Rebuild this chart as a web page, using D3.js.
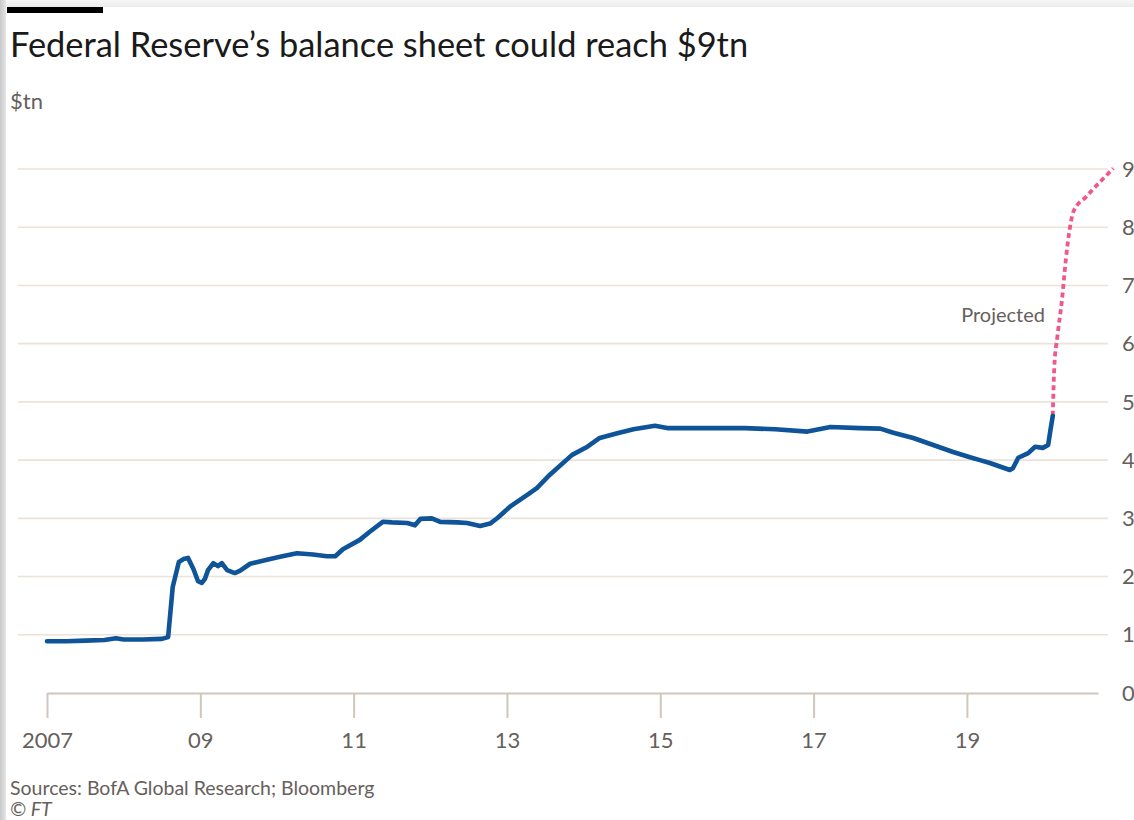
<!DOCTYPE html>
<html>
<head>
<meta charset="utf-8">
<script src="https://cdn.jsdelivr.net/npm/d3@7"></script>
<style>
  html, body { margin: 0; padding: 0; background: #fff; }
  svg { display: block; }
  text { font-family: Lato, "Open Sans", sans-serif; }
</style>
</head>
<body>
<svg id="chart" width="1134" height="820"></svg>
<script>
// Fed balance sheet, $tn (decimal year, value)
const actualYears = [2007.00, 2007.25, 2007.50, 2007.75, 2007.90, 2008.00, 2008.25, 2008.50, 2008.58, 2008.64,
  2008.72, 2008.78, 2008.84, 2008.91, 2008.97, 2009.02, 2009.06, 2009.10, 2009.17, 2009.23,
  2009.28, 2009.35, 2009.45, 2009.52, 2009.65, 2009.87, 2010.04, 2010.26, 2010.47, 2010.65,
  2010.76, 2010.86, 2011.08, 2011.21, 2011.38, 2011.50, 2011.70, 2011.80, 2011.87, 2012.02,
  2012.13, 2012.35, 2012.48, 2012.65, 2012.78, 2012.88, 2013.04, 2013.26, 2013.39, 2013.56,
  2013.85, 2014.05, 2014.21, 2014.44, 2014.65, 2014.93, 2015.09, 2015.30, 2015.52, 2015.80,
  2016.10, 2016.50, 2016.92, 2017.22, 2017.60, 2017.87, 2018.04, 2018.30, 2018.56, 2018.82,
  2019.04, 2019.17, 2019.30, 2019.56, 2019.60, 2019.67, 2019.80, 2019.89, 2019.99, 2020.06,
  2020.09, 2020.12];
const actualValues = [0.89, 0.89, 0.90, 0.91, 0.94, 0.92, 0.92, 0.93, 0.96, 1.82,
  2.25, 2.30, 2.32, 2.13, 1.92, 1.89, 1.96, 2.11, 2.23, 2.18,
  2.23, 2.11, 2.06, 2.10, 2.22, 2.29, 2.34, 2.40, 2.38, 2.35,
  2.35, 2.47, 2.63, 2.77, 2.94, 2.93, 2.92, 2.88, 2.99, 3.00,
  2.94, 2.93, 2.92, 2.87, 2.91, 3.01, 3.20, 3.40, 3.52, 3.75,
  4.09, 4.23, 4.38, 4.46, 4.53, 4.59, 4.55, 4.55, 4.55, 4.55,
  4.55, 4.53, 4.49, 4.57, 4.55, 4.54, 4.47, 4.38, 4.26, 4.14,
  4.05, 4.00, 3.95, 3.83, 3.86, 4.04, 4.12, 4.23, 4.21, 4.26,
  4.52, 4.76];

// BofA projection
const projectedYears = [2020.12, 2020.14, 2020.18, 2020.24, 2020.29, 2020.34, 2020.39, 2020.56, 2020.91];
const projectedValues = [4.76, 5.60, 6.12, 6.75, 7.44, 7.96, 8.27, 8.53, 9.01];

const xTickYears = [2007, 2009, 2011, 2013, 2015, 2017, 2019];
const xTickLabels = ["2007", "09", "11", "13", "15", "17", "19"];
const yTicks = [0, 1, 2, 3, 4, 5, 6, 7, 8, 9];

const titleText = "Federal Reserve\u2019s balance sheet could reach $9tn";
const unitText = "$tn";
const sourceText = "Sources: BofA Global Research; Bloomberg";
const creditText = "\u00a9 FT";
const projectedLabel = "Projected";

const svg = d3.select("#chart");

// frame shading along the top and left edges
const defs = svg.append("defs");
const gl = defs.append("linearGradient").attr("id", "edgeL").attr("x1", 0).attr("x2", 1).attr("y1", 0).attr("y2", 0);
gl.append("stop").attr("offset", 0).attr("stop-color", "#c8c8c8");
gl.append("stop").attr("offset", 1).attr("stop-color", "#e6e6e6");
const gt = defs.append("linearGradient").attr("id", "edgeT").attr("x1", 0).attr("x2", 0).attr("y1", 0).attr("y2", 1);
gt.append("stop").attr("offset", 0).attr("stop-color", "#f6f6f6");
gt.append("stop").attr("offset", 1).attr("stop-color", "#ececec");
svg.append("rect").attr("x", 0).attr("y", 0).attr("width", 1134).attr("height", 7).attr("fill", "url(#edgeT)");
svg.append("rect").attr("x", 0).attr("y", 0).attr("width", 6).attr("height", 820).attr("fill", "url(#edgeL)");

// header bar
svg.append("rect").attr("x", 7).attr("y", 7).attr("width", 96).attr("height", 6).attr("fill", "#000");

svg.append("text").attr("x", 10).attr("y", 57)
  .attr("font-size", 34.4).attr("fill", "#1a1a1a").text(titleText);
svg.append("text").attr("x", 10).attr("y", 109)
  .attr("font-size", 22).attr("fill", "#66605c").text(unitText);

const x = d3.scaleLinear().domain([2007, 2020.71]).range([47, 1098]);
const y = d3.scaleLinear().domain([0, 9]).range([693, 169]);

// horizontal grid
svg.append("g").selectAll("line").data(yTicks.filter(d => d > 0)).join("line")
  .attr("x1", 18).attr("x2", 1108)
  .attr("y1", d => y(d)).attr("y2", d => y(d))
  .attr("stroke", "#ebe2da").attr("stroke-width", 1.6);

// right-hand value labels
svg.append("g").selectAll("text").data(yTicks).join("text")
  .attr("x", 1122).attr("y", d => y(d)).attr("dy", "0.35em")
  .attr("font-size", 22).attr("fill", "#66605c").text(d => d);

// x axis
const xAxis = d3.axisBottom(x)
  .tickValues(xTickYears)
  .tickFormat((d, i) => xTickLabels[i])
  .tickSize(25).tickSizeOuter(0).tickPadding(14);
const gx = svg.append("g").attr("transform", `translate(0,${y(0)})`).call(xAxis);
gx.select(".domain").attr("stroke", "#cfc6bd").attr("stroke-width", 2);
gx.selectAll(".tick line").attr("stroke", "#cfc6bd").attr("stroke-width", 2);
gx.selectAll(".tick text").attr("font-size", 22).attr("fill", "#66605c")
  .attr("font-family", "Lato, 'Open Sans', sans-serif");

// series
const actual = actualYears.map((d, i) => [d, actualValues[i]]);
const projected = projectedYears.map((d, i) => [d, projectedValues[i]]);
const line = d3.line().x(d => x(d[0])).y(d => y(d[1]));
const smooth = d3.line().x(d => x(d[0])).y(d => y(d[1])).curve(d3.curveMonotoneX);

svg.append("path").datum(projected).attr("d", smooth)
  .attr("fill", "none").attr("stroke", "#f0588b").attr("stroke-width", 3.8)
  .attr("stroke-dasharray", "5,3.5");

svg.append("path").datum(actual).attr("d", line)
  .attr("fill", "none").attr("stroke", "#0f5499").attr("stroke-width", 4.6)
  .attr("stroke-linejoin", "round").attr("stroke-linecap", "round");

svg.append("text").attr("x", 1045).attr("y", y(6.49)).attr("dy", "0.35em")
  .attr("text-anchor", "end").attr("font-size", 20).attr("fill", "#66605c").text(projectedLabel);

// footer
svg.append("text").attr("x", 10).attr("y", 795)
  .attr("font-size", 19.5).attr("fill", "#66605c").text(sourceText);
svg.append("text").attr("x", 10).attr("y", 816)
  .attr("font-size", 19.5).attr("font-style", "italic").attr("fill", "#66605c").text(creditText);
</script>
</body>
</html>
